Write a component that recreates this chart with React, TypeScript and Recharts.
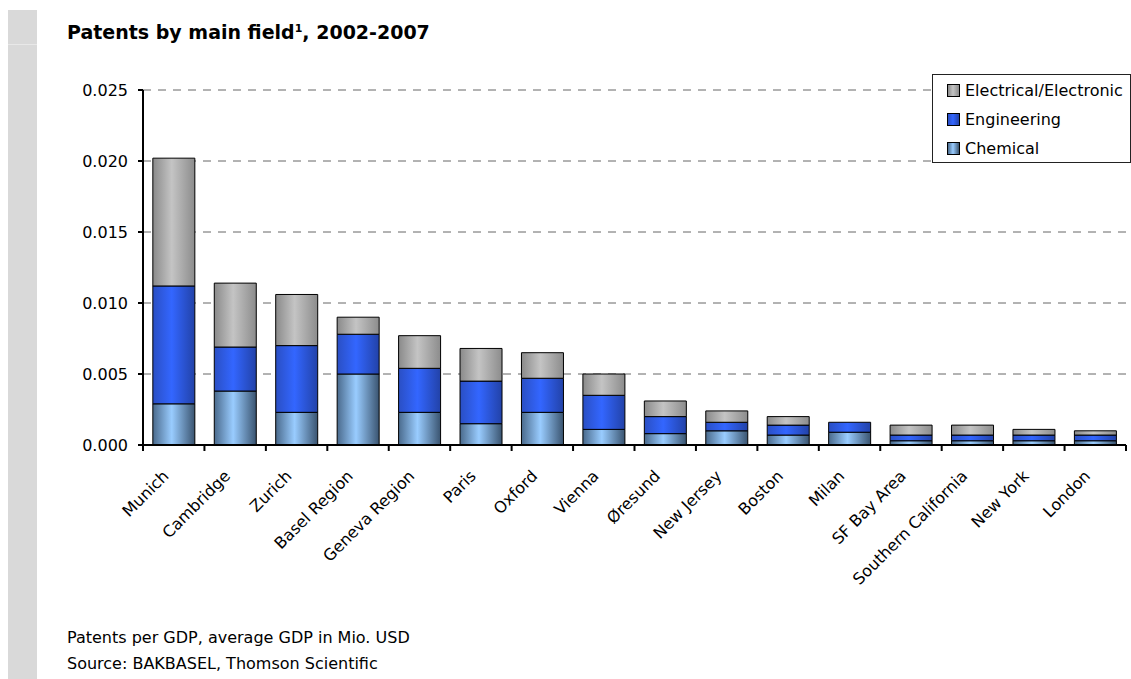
import React from 'react';
import { BarChart, Bar, XAxis, YAxis, CartesianGrid, Legend } from 'recharts';

const cities = [
    'Munich', 'Cambridge', 'Zurich', 'Basel Region', 'Geneva Region', 'Paris', 'Oxford', 'Vienna',
    'Øresund', 'New Jersey', 'Boston', 'Milan', 'SF Bay Area', 'Southern California', 'New York', 'London',
];
const chemical = [0.0029, 0.0038, 0.0023, 0.0050, 0.0023, 0.0015, 0.0023, 0.0011, 0.0008, 0.0010, 0.0007, 0.0009, 0.0003, 0.0003, 0.0003, 0.0003];
const engineering = [0.0083, 0.0031, 0.0047, 0.0028, 0.0031, 0.0030, 0.0024, 0.0024, 0.0012, 0.0006, 0.0007, 0.0007, 0.0004, 0.0004, 0.0004, 0.0004];
const electrical = [0.0090, 0.0045, 0.0036, 0.0012, 0.0023, 0.0023, 0.0018, 0.0015, 0.0011, 0.0008, 0.0006, 0.0000, 0.0007, 0.0007, 0.0004, 0.0003];
const yTicks = [0, 0.005, 0.01, 0.015, 0.02, 0.025];
const legendOrder = ['electrical', 'engineering', 'chemical'];

const data = cities.map((city, i) => ({
    city,
    chemical: chemical[i],
    engineering: engineering[i],
    electrical: electrical[i],
}));

const FONT = '"DejaVu Sans", Verdana, sans-serif';
const PLOT_LEFT = 143;
const PLOT_RIGHT = 1126;
const band = (PLOT_RIGHT - PLOT_LEFT) / cities.length;

// css versions of the bar gradients, for the legend swatches
const swatch: Record<string, string> = {
    electrical: 'linear-gradient(90deg, #8a8a8a, #c4c4c4 45%, #8c8c8c)',
    engineering: 'linear-gradient(90deg, #2a4fc4, #3366ff 45%, #2242a8)',
    chemical: 'linear-gradient(90deg, #4a6a8c, #99ccff 45%, #3a5470)',
};

const CityTick = (props: any) => {
    const { x, y, payload, index } = props;
    const ax = x - 4;
    const ay = y + 32;
    return (
        <g>
            <line x1={x - band / 2} x2={x - band / 2} y1={y} y2={y + 6} stroke="#000" strokeWidth={2} />
            {index === cities.length - 1 && (
                <line x1={x + band / 2} x2={x + band / 2} y1={y} y2={y + 6} stroke="#000" strokeWidth={2} />
            )}
            <text
                x={ax}
                y={ay}
                textAnchor="end"
                transform={`rotate(-45, ${ax}, ${ay})`}
                fontSize={16}
                fontFamily={FONT}
                fill="#000"
            >
                {payload.value}
            </text>
        </g>
    );
};

const LegendBox = (props: any) => {
    const items = [...(props.payload || [])].sort(
        (a: any, b: any) => legendOrder.indexOf(a.dataKey) - legendOrder.indexOf(b.dataKey)
    );
    return (
        <div style={{ border: '1px solid #222', background: '#fff', padding: '1px 0 0 14px', boxSizing: 'border-box', height: '100%' }}>
            {items.map((it: any) => (
                <div key={it.dataKey} style={{ display: 'flex', alignItems: 'center', height: 29 }}>
                    <div style={{ width: 11, height: 11, border: '1px solid #000', background: swatch[it.dataKey], marginRight: 5 }} />
                    <span style={{ fontFamily: FONT, fontSize: 16, color: '#000' }}>{it.value}</span>
                </div>
            ))}
        </div>
    );
};

const App: React.FC = () => {
    return (
        <div style={{ position: 'absolute', left: 0, top: 0, width: 1131, height: 679, background: '#fff', overflow: 'hidden' }}>
            <div style={{ position: 'absolute', left: 8, top: 10, width: 29, height: 669, background: '#d9d9d9' }} />
            <div style={{ position: 'absolute', left: 8, top: 44, width: 29, height: 1, background: '#e8e8e8' }} />
            <div style={{ position: 'absolute', left: 67, top: 23, fontFamily: FONT, fontWeight: 'bold', fontSize: 19, lineHeight: '19px', color: '#000', whiteSpace: 'nowrap' }}>
                Patents by main field<sup style={{ fontSize: 11, verticalAlign: '7px', lineHeight: 0 }}>1</sup>, 2002-2007
            </div>
            <div style={{ position: 'absolute', left: 0, top: 0 }}>
                <BarChart
                    width={1131}
                    height={600}
                    data={data}
                    margin={{ top: 90, right: 1131 - PLOT_RIGHT, left: 0, bottom: 5 }}
                    barCategoryGap="16%"
                >
                    <defs>
                        <linearGradient id="gElec" x1="0" y1="0" x2="1" y2="0">
                            <stop offset="0%" stopColor="#8a8a8a" />
                            <stop offset="45%" stopColor="#c4c4c4" />
                            <stop offset="100%" stopColor="#8c8c8c" />
                        </linearGradient>
                        <linearGradient id="gEng" x1="0" y1="0" x2="1" y2="0">
                            <stop offset="0%" stopColor="#2a4fc4" />
                            <stop offset="45%" stopColor="#3366ff" />
                            <stop offset="100%" stopColor="#2242a8" />
                        </linearGradient>
                        <linearGradient id="gChem" x1="0" y1="0" x2="1" y2="0">
                            <stop offset="0%" stopColor="#4a6a8c" />
                            <stop offset="45%" stopColor="#99ccff" />
                            <stop offset="100%" stopColor="#3a5470" />
                        </linearGradient>
                    </defs>
                    <CartesianGrid vertical={false} stroke="#666" strokeDasharray="8 7" />
                    <XAxis
                        dataKey="city"
                        interval={0}
                        height={150}
                        tickLine={false}
                        tickSize={0}
                        tickMargin={0}
                        axisLine={{ stroke: '#000', strokeWidth: 2 }}
                        tick={CityTick}
                    />
                    <YAxis
                        width={PLOT_LEFT}
                        domain={[0, 0.025]}
                        ticks={yTicks}
                        tickFormatter={(v: number) => v.toFixed(3)}
                        tickSize={5}
                        tickMargin={10}
                        tickLine={{ stroke: '#000', strokeWidth: 2 }}
                        axisLine={{ stroke: '#000', strokeWidth: 2 }}
                        tick={{ fill: '#000', fontSize: 16, fontFamily: FONT }}
                    />
                    <Legend
                        layout="horizontal"
                        verticalAlign="middle"
                        align="center"
                        content={LegendBox}
                        wrapperStyle={{ position: 'absolute', left: 932, top: 74, width: 199, height: 89 }}
                    />
                    <Bar dataKey="chemical" name="Chemical" stackId="a" fill="url(#gChem)" stroke="#000" strokeWidth={1} isAnimationActive={false} />
                    <Bar dataKey="engineering" name="Engineering" stackId="a" fill="url(#gEng)" stroke="#000" strokeWidth={1} isAnimationActive={false} />
                    <Bar dataKey="electrical" name="Electrical/Electronic" stackId="a" fill="url(#gElec)" stroke="#000" strokeWidth={1} isAnimationActive={false} />
                </BarChart>
            </div>
            <div style={{ position: 'absolute', left: 67, top: 625, fontFamily: FONT, fontSize: 16, lineHeight: '26px', color: '#000' }}>
                <div>Patents per GDP, average GDP in Mio. USD</div>
                <div>Source: BAKBASEL, Thomson Scientific</div>
            </div>
        </div>
    );
};

export default App;
